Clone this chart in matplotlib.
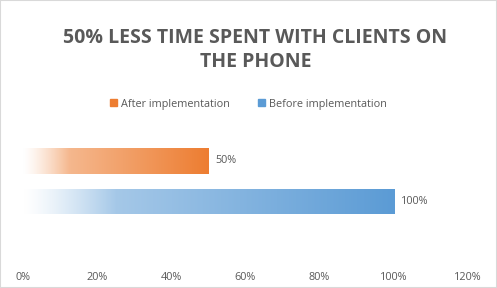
import numpy as np
import matplotlib.pyplot as plt
from matplotlib.colors import to_rgb
from matplotlib.patches import Patch

title = "50% LESS TIME SPENT WITH CLIENTS ON\nTHE PHONE"
series = ["After implementation", "Before implementation"]
values = [0.50, 1.00]
colors = ["#ED7D31", "#5B9BD5"]
ticks = [0, 0.2, 0.4, 0.6, 0.8, 1.0, 1.2]
tick_labels = ["0%", "20%", "40%", "60%", "80%", "100%", "120%"]
value_labels = ["50%", "100%"]

gray = "#595959"

fig = plt.figure(figsize=(4.97, 2.88), dpi=100)
fig.patches.append(plt.Rectangle((0, 0), 1, 1, transform=fig.transFigure,
                                 fill=False, edgecolor="#D9D9D9", lw=1.5))

W, H = 497, 288
ax = fig.add_axes([22.5 / W, 1 - 258 / H, (468 - 22.5) / W, (258 - 135) / H])
ax.set_xlim(0, 1.2)
ax.set_ylim(-1.395, 1.64)
for s in ax.spines.values():
    s.set_visible(False)
ax.set_yticks([])
ax.set_xticks(ticks)
ax.set_xticklabels(tick_labels, color=gray, fontsize=7.8, family="Open Sans")
ax.tick_params(axis="x", length=0, pad=10)

ypos = [1, 0]
bh = 0.62
n = 300
t = np.linspace(0, 1, n)
# gradient: white on the left, full colour on the right
ramp = np.where(t < 0.25, 0.55 * (t / 0.25) ** 1.3, 0.55 + 0.45 * (t - 0.25) / 0.75)
for name, v, c, y, lab in zip(series, values, colors, ypos, value_labels):
    bar = ax.barh(y, v, height=bh, color="none", edgecolor="none", label=name)[0]
    rgb = np.array(to_rgb(c))
    img = (1 - ramp[:, None]) * np.ones(3) + ramp[:, None] * rgb
    im = ax.imshow(img[None, :, :], extent=[0, v, y - bh / 2, y + bh / 2],
                   aspect="auto", zorder=2)
    im.set_clip_path(bar)
    ax.text(v + 0.02, y, lab, va="center", ha="left", color=gray,
            fontsize=7.8, family="Open Sans")

handles = [Patch(color=c) for c in colors]
fig.legend(handles, series, loc="center", bbox_to_anchor=(0.5, 1 - 104 / H),
           ncol=2, frameon=False, handlelength=0.6, handleheight=0.6,
           handletextpad=0.4, columnspacing=2.6, labelcolor=gray,
           prop={"family": "Open Sans", "size": 7.8})

fig.text(255.5 / W, 1 - 50 / H, title, ha="center", va="center", color=gray,
         fontsize=14, fontweight="bold", family="Open Sans", linespacing=1.3)

fig.savefig("out.png", dpi=100)
